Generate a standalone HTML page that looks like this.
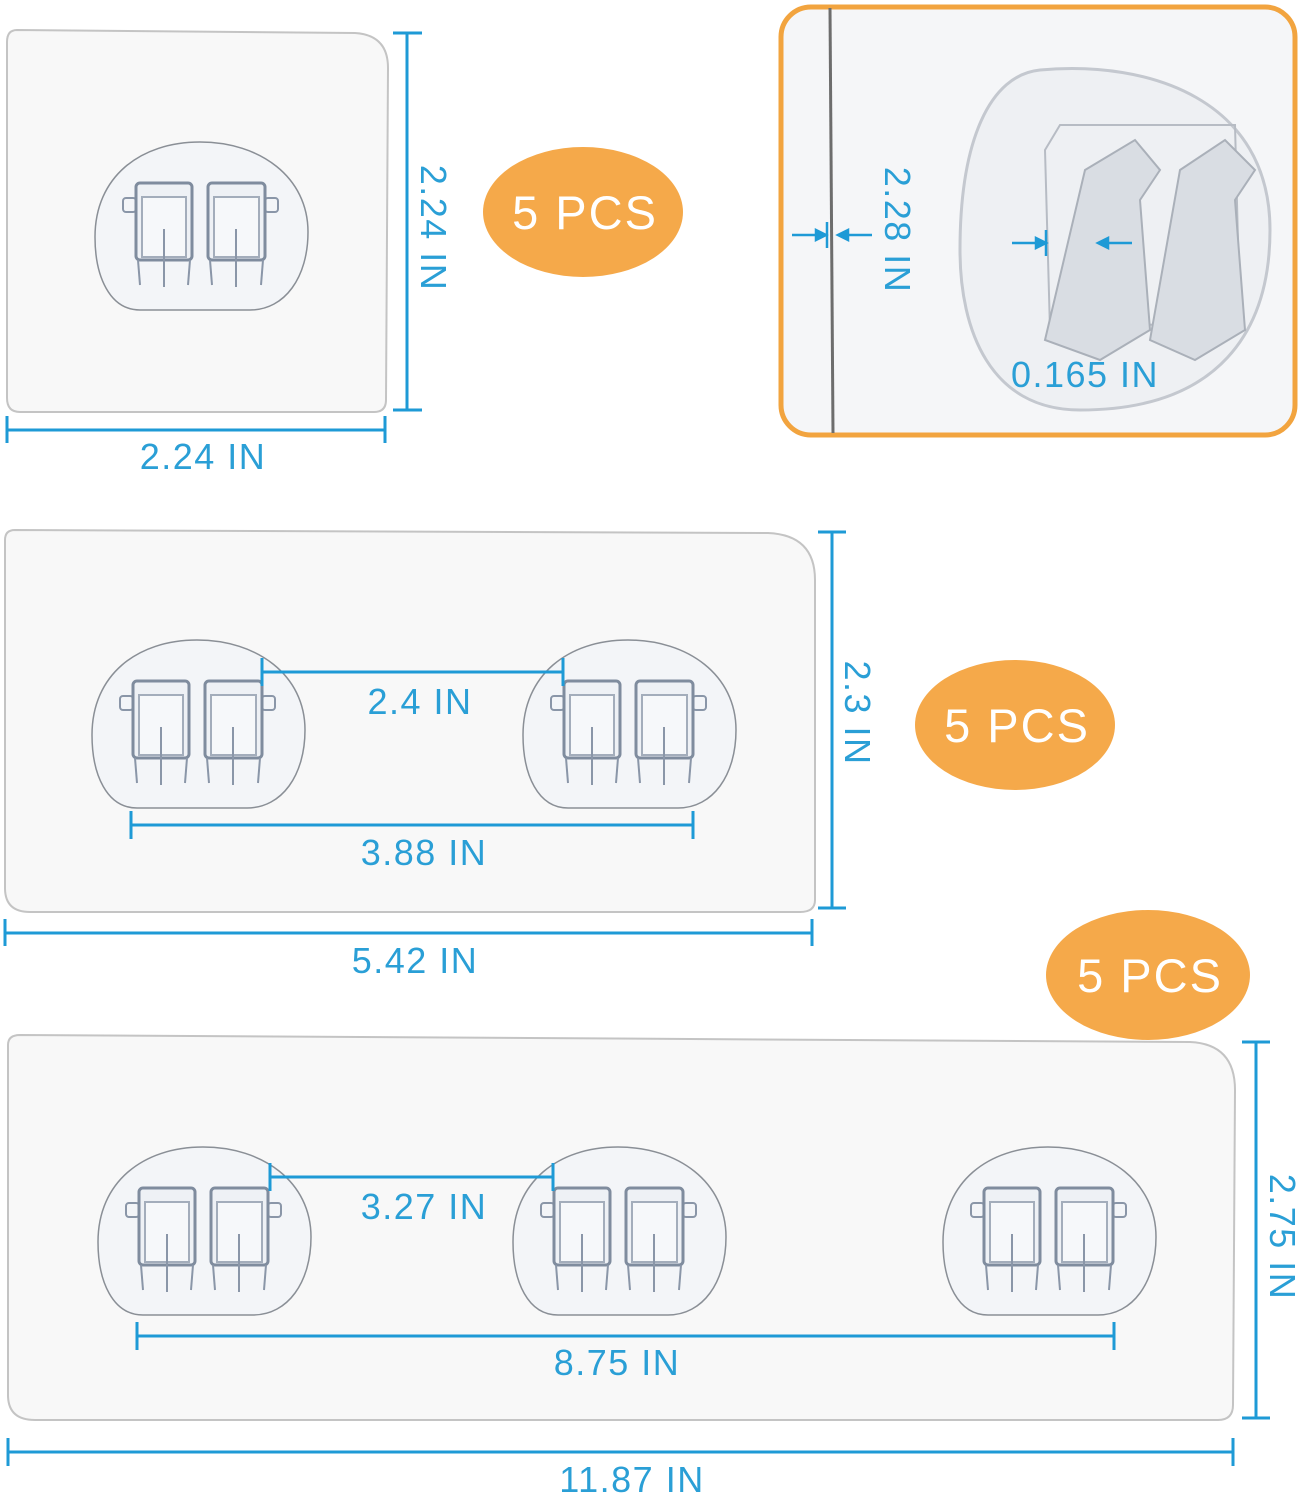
<!DOCTYPE html>
<html><head><meta charset="utf-8"><style>
html,body{margin:0;padding:0;background:#fff;}
svg{display:block;}
text{font-family:"Liberation Sans",sans-serif;}
.d{font-size:36px;fill:#2a9fd6;letter-spacing:1.5px;}
.o{font-size:47px;fill:#fff;letter-spacing:2px;}
</style></head><body>
<svg width="1301" height="1500" viewBox="0 0 1301 1500" xmlns="http://www.w3.org/2000/svg">
<defs>
<g id="hk">
  <rect x="-77" y="-29" width="13" height="14" rx="3" fill="none" stroke="#8a96a8" stroke-width="2"/>
  <rect x="-64" y="-44" width="56" height="77" rx="4" fill="#eef1f5" stroke="#7f8c9e" stroke-width="3"/>
  <rect x="-58" y="-30" width="44" height="60" fill="#f6f8fa" stroke="#a3adbb" stroke-width="2"/>
  <line x1="-36" y1="2" x2="-36" y2="60" stroke="#8a96a8" stroke-width="2"/>
  <line x1="-62" y1="33" x2="-60" y2="58" stroke="#8a96a8" stroke-width="2"/>
  <line x1="-10" y1="33" x2="-12" y2="58" stroke="#8a96a8" stroke-width="2"/>
  <rect x="65" y="-29" width="13" height="14" rx="3" fill="none" stroke="#8a96a8" stroke-width="2"/>
  <rect x="8" y="-44" width="57" height="77" rx="4" fill="#eef1f5" stroke="#7f8c9e" stroke-width="3"/>
  <rect x="14" y="-30" width="45" height="60" fill="#f6f8fa" stroke="#a3adbb" stroke-width="2"/>
  <line x1="36" y1="2" x2="36" y2="60" stroke="#8a96a8" stroke-width="2"/>
  <line x1="10" y1="33" x2="12" y2="58" stroke="#8a96a8" stroke-width="2"/>
  <line x1="63" y1="33" x2="61" y2="58" stroke="#8a96a8" stroke-width="2"/>
</g>
<g id="pad">
  <path d="M-105,10 C-105,-50 -60,-85 0,-85 C60,-85 108,-50 108,5 C108,50 85,83 50,83 L-60,83 C-90,83 -105,50 -105,10 Z" fill="#f3f5f8" stroke="#8a8f96" stroke-width="1.5"/>
  <use href="#hk"/>
</g>
</defs>

<path d="M17,30 L355,33 Q388,35 388,68 L386,400 Q386,412 374,412 L20,412 Q7,412 7,398 L7,42 Q7,30 17,30 Z" fill="#f8f8f8" stroke="#c4c4c4" stroke-width="2"/>
<use href="#pad" x="200" y="227"/>
<g stroke="#1e9ad6" stroke-width="3" fill="none">
  <line x1="407" y1="33" x2="407" y2="410"/><line x1="393" y1="33" x2="422" y2="33"/><line x1="393" y1="410" x2="422" y2="410"/>
  <line x1="7" y1="430" x2="385" y2="430"/><line x1="7" y1="416" x2="7" y2="443"/><line x1="385" y1="416" x2="385" y2="443"/>
</g>
<text transform="translate(421,228) rotate(90)" text-anchor="middle" class="d">2.24 IN</text>
<text x="203" y="469" text-anchor="middle" class="d">2.24 IN</text>
<ellipse cx="583" cy="212" rx="100" ry="65" fill="#f5a94a"/>
<text x="585" y="229" text-anchor="middle" class="o">5 PCS</text>

<rect x="781" y="7" width="514" height="428" rx="30" fill="#f5f6f8" stroke="#f2a43f" stroke-width="5"/>
<line x1="830" y1="8" x2="833" y2="433" stroke="#6d6d6d" stroke-width="3"/>
<path d="M1040,70 C1150,60 1270,100 1270,230 C1270,330 1220,410 1080,410 C990,410 960,330 960,250 C960,140 990,75 1040,70 Z" fill="#eef0f3" stroke="#c4c8cf" stroke-width="3"/>
<path d="M1045,150 L1060,125 L1235,125 L1240,320 L1050,330 Z" fill="none" stroke="#b7bcc4" stroke-width="2"/>
<path d="M1085,170 L1135,140 L1160,170 L1140,200 L1150,330 L1100,360 L1045,340 Z" fill="#d9dde3" stroke="#aab0b9" stroke-width="2"/>
<path d="M1180,170 L1225,140 L1255,170 L1235,200 L1245,330 L1195,360 L1150,340 Z" fill="#d9dde3" stroke="#aab0b9" stroke-width="2"/>
<g stroke="#1e9ad6" stroke-width="2.5" fill="#1e9ad6">
  <line x1="792" y1="235" x2="822" y2="235"/><polygon points="826,235 816,230 816,240"/>
  <line x1="842" y1="235" x2="872" y2="235"/><polygon points="838,235 848,230 848,240"/>
  <line x1="827" y1="222" x2="827" y2="248"/>
  <line x1="1012" y1="243" x2="1042" y2="243"/><polygon points="1046,243 1036,238 1036,248"/>
  <line x1="1102" y1="243" x2="1132" y2="243"/><polygon points="1098,243 1108,238 1108,248"/>
  <line x1="1046" y1="230" x2="1046" y2="256"/>
</g>
<text transform="translate(885,230) rotate(90)" text-anchor="middle" class="d">2.28 IN</text>
<text x="1085" y="387" text-anchor="middle" class="d">0.165 IN</text>

<path d="M15,530 L768,533 Q815,535 815,580 L815,900 Q815,912 800,912 L30,912 Q5,912 5,888 L5,540 Q5,530 15,530 Z" fill="#f8f8f8" stroke="#c4c4c4" stroke-width="2"/>
<use href="#pad" x="197" y="725"/>
<use href="#pad" x="628" y="725"/>
<g stroke="#1e9ad6" stroke-width="3" fill="none">
  <line x1="262" y1="672" x2="563" y2="672"/><line x1="262" y1="658" x2="262" y2="686"/><line x1="563" y1="658" x2="563" y2="686"/>
  <line x1="131" y1="825" x2="693" y2="825"/><line x1="131" y1="811" x2="131" y2="839"/><line x1="693" y1="811" x2="693" y2="839"/>
  <line x1="832" y1="532" x2="832" y2="908"/><line x1="818" y1="532" x2="846" y2="532"/><line x1="818" y1="908" x2="846" y2="908"/>
  <line x1="5" y1="933" x2="812" y2="933"/><line x1="5" y1="919" x2="5" y2="946"/><line x1="812" y1="919" x2="812" y2="946"/>
</g>
<text x="420" y="714" text-anchor="middle" class="d">2.4 IN</text>
<text x="424" y="865" text-anchor="middle" class="d">3.88 IN</text>
<text transform="translate(845,713) rotate(90)" text-anchor="middle" class="d">2.3 IN</text>
<text x="415" y="973" text-anchor="middle" class="d">5.42 IN</text>
<ellipse cx="1015" cy="725" rx="100" ry="65" fill="#f5a94a"/>
<text x="1017" y="742" text-anchor="middle" class="o">5 PCS</text>

<ellipse cx="1148" cy="975" rx="102" ry="65" fill="#f5a94a"/>
<text x="1150" y="992" text-anchor="middle" class="o">5 PCS</text>
<path d="M20,1035 L1190,1042 Q1235,1044 1235,1090 L1233,1405 Q1233,1420 1218,1420 L35,1420 Q8,1420 8,1395 L8,1045 Q8,1035 20,1035 Z" fill="#f8f8f8" stroke="#c4c4c4" stroke-width="2"/>
<use href="#pad" x="203" y="1232"/>
<use href="#pad" x="618" y="1232"/>
<use href="#pad" x="1048" y="1232"/>
<g stroke="#1e9ad6" stroke-width="3" fill="none">
  <line x1="270" y1="1177" x2="553" y2="1177"/><line x1="270" y1="1163" x2="270" y2="1191"/><line x1="553" y1="1163" x2="553" y2="1191"/>
  <line x1="137" y1="1336" x2="1114" y2="1336"/><line x1="137" y1="1322" x2="137" y2="1350"/><line x1="1114" y1="1322" x2="1114" y2="1350"/>
  <line x1="1256" y1="1042" x2="1256" y2="1418"/><line x1="1242" y1="1042" x2="1270" y2="1042"/><line x1="1242" y1="1418" x2="1270" y2="1418"/>
  <line x1="8" y1="1452" x2="1233" y2="1452"/><line x1="8" y1="1438" x2="8" y2="1466"/><line x1="1233" y1="1438" x2="1233" y2="1466"/>
</g>
<text x="424" y="1219" text-anchor="middle" class="d">3.27 IN</text>
<text x="617" y="1375" text-anchor="middle" class="d">8.75 IN</text>
<text transform="translate(1270,1237) rotate(90)" text-anchor="middle" class="d">2.75 IN</text>
<text x="632" y="1492" text-anchor="middle" class="d">11.87 IN</text>
</svg>
</body></html>
